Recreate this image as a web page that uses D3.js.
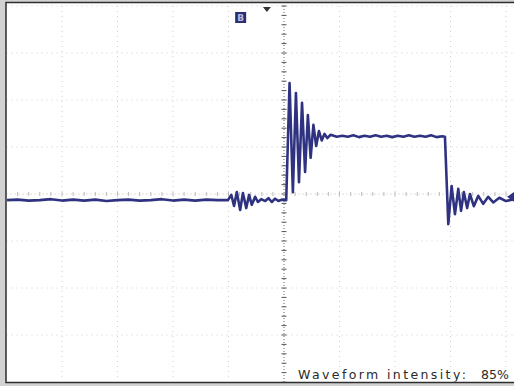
<!DOCTYPE html>
<html><head><meta charset="utf-8">
<script src="https://cdn.jsdelivr.net/npm/d3@7"></script>
<style>html,body{margin:0;padding:0;background:#d2d2d2;overflow:hidden}</style>
</head><body>
<svg id="c" width="514" height="386"></svg>
<script>
// time in tenths of a division (center = 0), voltage in tenths of a division (center = 0)
const timeTicks = [-50,-40,-30,-20,-10,0,10,20,30,40,50];
const voltTicks = [-40,-30,-20,-10,0,10,20,30,40];
const minorTime = d3.range(-50, 51, 2);
const minorVolt = d3.range(-40, 41, 2);

const traceT = [
 -49.9,-48,-46,-44,-42,-40,-38,-36,-34,-32,-30,-28,-26,-24,-22,-20,-18,-16,-14,-12,
 -10.1,-9.5,-9.0,-8.5,-7.9,-7.4,-6.8,-6.3,-5.8,-5.2,-4.7,-4.1,-3.4,-2.8,-2.2,-1.6,-1.0,-0.4,0.4,
 1.0,1.6,2.15,2.7,3.25,3.8,4.3,4.8,5.3,5.8,6.3,6.8,7.3,7.8,8.4,
 9.5,10.5,11.5,12.5,13.5,14.5,15.5,16.5,17.5,18.5,19.5,20.5,21.5,22.5,23.5,24.5,25.5,26.5,27.5,28.5,29.0,
 29.6,30.2,30.8,31.4,31.9,32.4,33.0,33.5,34.2,35.0,35.9,36.8,37.7,38.8,40.0,41.4
];
const traceV = [
 -1.3,-1.2,-1.4,-1.3,-1.1,-1.4,-1.2,-1.4,-1.2,-1.5,-1.3,-1.2,-1.4,-1.3,-1.1,-1.4,-1.2,-1.4,-1.2,-1.3,
 -1.3,-0.2,-2.55,0.4,-3.4,0.2,-3.0,-0.2,-2.3,-0.6,-1.7,-1.1,-1.5,-0.9,-1.7,-1.0,-1.5,-1.2,-1.3,
 23.6,0.4,21.5,2.5,19.4,4.7,16.8,7.7,14.7,10.2,13.4,11.4,12.8,11.9,12.6,
 12.2,12.4,12.2,12.5,12.1,12.4,12.2,12.5,12.2,12.4,12.1,12.4,12.2,12.5,12.2,12.4,12.2,12.5,12.1,12.3,12.2,
 -6.4,1.7,-4.3,1.1,-3.6,0.4,-3.0,0.0,-2.6,-0.4,-2.1,-0.6,-1.8,-0.8,-1.5,-1.1
];
const readoutLabel = "Waveform intensity:";
const readoutValue = "85%";

const svg = d3.select("#c");
const X0 = 284, DX = 55.5, Y0 = 194, DY = 47;
const x = d3.scaleLinear().domain([-50, 50]).range([X0 - 5*DX, X0 + 5*DX]);
const y = d3.scaleLinear().domain([-40, 40]).range([Y0 + 4*DY, Y0 - 4*DY]);

// screen
svg.append("rect").attr("x",6).attr("y",2.5).attr("width",520).attr("height",380)
  .attr("fill","#ffffff").attr("stroke","#2e2e2e").attr("stroke-width",1.5);

const clip = svg.append("defs").append("clipPath").attr("id","cp");
clip.append("rect").attr("x",7).attr("y",3.5).attr("width",520).attr("height",378);
const g = svg.append("g").attr("clip-path","url(#cp)");

// grid
g.selectAll(".gv").data(timeTicks.filter(d=>d!==0)).enter().append("line")
  .attr("x1",d=>x(d)).attr("x2",d=>x(d)).attr("y1",y(40)).attr("y2",y(-40))
  .attr("stroke","#d0d0d0").attr("stroke-width",1).attr("stroke-dasharray","1,4");
g.selectAll(".gh").data(voltTicks.filter(d=>d!==0)).enter().append("line")
  .attr("y1",d=>y(d)).attr("y2",d=>y(d)).attr("x1",x(-50)).attr("x2",x(50))
  .attr("stroke","#d0d0d0").attr("stroke-width",1).attr("stroke-dasharray","1,4");

// center axes
g.append("line").attr("x1",x(0)).attr("x2",x(0)).attr("y1",y(40)).attr("y2",y(-40))
  .attr("stroke","#666").attr("stroke-width",1).attr("stroke-dasharray","1,2");
g.append("line").attr("y1",y(0)).attr("y2",y(0)).attr("x1",x(-50)).attr("x2",x(50))
  .attr("stroke","#c0c0c0").attr("stroke-width",1).attr("stroke-dasharray","1,3");
g.selectAll(".tv").data(minorVolt).enter().append("line")
  .attr("x1",x(0)-2.5).attr("x2",x(0)+2.5).attr("y1",d=>y(d)).attr("y2",d=>y(d))
  .attr("stroke","#555").attr("stroke-width",1);
g.selectAll(".th").data(minorTime).enter().append("line")
  .attr("y1",y(0)-2).attr("y2",y(0)+2).attr("x1",d=>x(d)).attr("x2",d=>x(d))
  .attr("stroke","#bbb").attr("stroke-width",1);

// trace
const pts = traceT.map((t,i)=>[t, traceV[i]]);
const line = d3.line().x(d=>x(d[0])).y(d=>y(d[1]));
g.append("path").attr("d",line(pts)).attr("fill","none")
  .attr("stroke","#2f3280").attr("stroke-width",2.6).attr("stroke-linejoin","round");

// markers
g.append("path").attr("d",`M${x(-3.8)},${y(40)+1} h8 l-4,5 z`).attr("fill","#333");
g.append("rect").attr("x",x(-8.8)).attr("y",12).attr("width",11).attr("height",11).attr("fill","#2c2e72");
g.append("text").attr("x",x(-8.8)+5.5).attr("y",21).attr("text-anchor","middle")
  .attr("font-family","DejaVu Sans").attr("font-size",9).attr("font-weight","bold").attr("fill","#b8bde0").text("B");
g.append("path").attr("d",`M${x(40.2)},${y(-0.6)} l7,-5 v10 z`).attr("fill","#2f3280");

// readout
g.append("text").attr("x",298).attr("y",379).attr("font-family","DejaVu Sans")
  .attr("font-size",12.5).attr("fill","#2a2a2a").attr("textLength",168).attr("lengthAdjust","spacing")
  .text(readoutLabel);
g.append("text").attr("x",481).attr("y",379).attr("font-family","DejaVu Sans")
  .attr("font-size",12.5).attr("fill","#2a2a2a").text(readoutValue);
</script>
</body></html>
